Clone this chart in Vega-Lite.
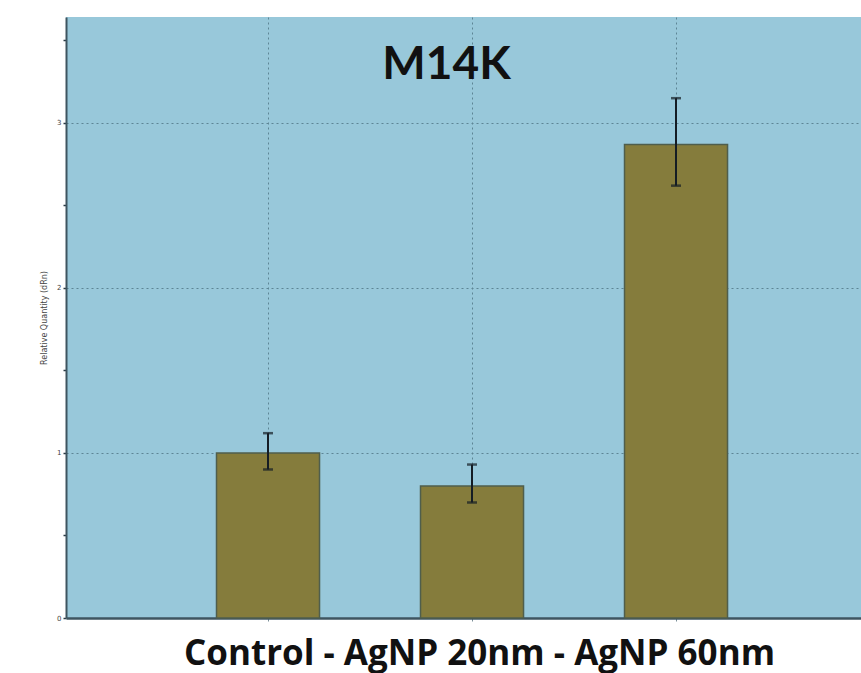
{
  "$schema": "https://vega.github.io/schema/vega-lite/v6.json",
  "width": 795,
  "height": 601,
  "autosize": {"type": "none"},
  "padding": {"left": 66, "top": 17, "right": 0, "bottom": 55},
  "background": "#ffffff",
  "config": {
    "view": {"fill": "#98c8da", "stroke": null},
    "font": "Lato"
  },
  "title": {
    "text": "M14K",
    "font": "Lato",
    "fontSize": 46,
    "fontWeight": "bold",
    "color": "#111111",
    "anchor": "middle",
    "frame": "group",
    "baseline": "alphabetic",
    "offset": -63,
    "dx": -17,
    "dy": 45
  },
  "data": {
    "values": [
      {"group": "Control", "value": 1.0, "lo": 0.90, "hi": 1.12},
      {"group": "AgNP 20nm", "value": 0.80, "lo": 0.70, "hi": 0.93},
      {"group": "AgNP 60nm", "value": 2.87, "lo": 2.62, "hi": 3.15}
    ]
  },
  "encoding": {
    "x": {
      "field": "group",
      "type": "nominal",
      "sort": ["Control", "AgNP 20nm", "AgNP 60nm"],
      "scale": {"paddingInner": 0.495, "paddingOuter": 0.696, "align": 0.53},
      "axis": {
        "title": "Control - AgNP 20nm - AgNP 60nm",
        "titleFont": "Open Sans",
        "titleFontSize": 35,
        "titleFontWeight": "bold",
        "titleColor": "#111111",
        "titleX": 413,
        "titleY": 46,
        "titleBaseline": "alphabetic",
        "titleAnchor": "middle",
        "titleAlign": "center",
        "labels": false,
        "grid": true,
        "gridColor": "#5d8595",
        "gridDash": [2, 3],
        "gridWidth": 1,
        "bandPosition": 0.5,
        "domainColor": "#3e5560",
        "domainWidth": 2.5,
        "tickColor": "#7a8f98",
        "tickSize": 3,
        "ticks": true
      }
    }
  },
  "layer": [
    {
      "mark": {"type": "bar", "color": "#857c3c", "stroke": "#4f5e4c", "strokeWidth": 1.5},
      "encoding": {
        "y": {
          "field": "value",
          "type": "quantitative",
          "scale": {"domain": [0, 3.642], "nice": false, "zero": true},
          "axis": {
            "title": "Relative Quantity (dRn)",
            "titleFont": "DejaVu Sans",
            "titleFontSize": 8,
            "titleFontWeight": "normal",
            "titleColor": "#444444",
            "titlePadding": 8,
            "values": [0, 0.5, 1, 1.5, 2, 2.5, 3, 3.5],
            "labelExpr": "datum.value % 1 == 0 ? format(datum.value, 'd') : ''",
            "labelFont": "DejaVu Sans",
            "labelFontSize": 7,
            "labelColor": "#444444",
            "labelPadding": 2,
            "grid": true,
            "gridColor": "#5d8595",
            "gridDash": [2, 3],
            "gridWidth": 1,
            "gridOpacity": {"condition": {"test": "datum.value % 1 == 0 && datum.value > 0", "value": 1}, "value": 0},
            "domainColor": "#3e5560",
            "domainWidth": 2,
            "tickColor": "#2a3a44",
            "tickSize": 3,
            "tickWidth": 1.5
          }
        }
      }
    },
    {
      "mark": {
        "type": "errorbar",
        "color": "#141c24",
        "ticks": {"size": 10, "thickness": 2.5, "color": "#141c24"},
        "rule": {"strokeWidth": 2, "color": "#141c24"}
      },
      "encoding": {
        "y": {"field": "lo", "type": "quantitative", "title": "Relative Quantity (dRn)"},
        "y2": {"field": "hi"}
      }
    }
  ]
}
